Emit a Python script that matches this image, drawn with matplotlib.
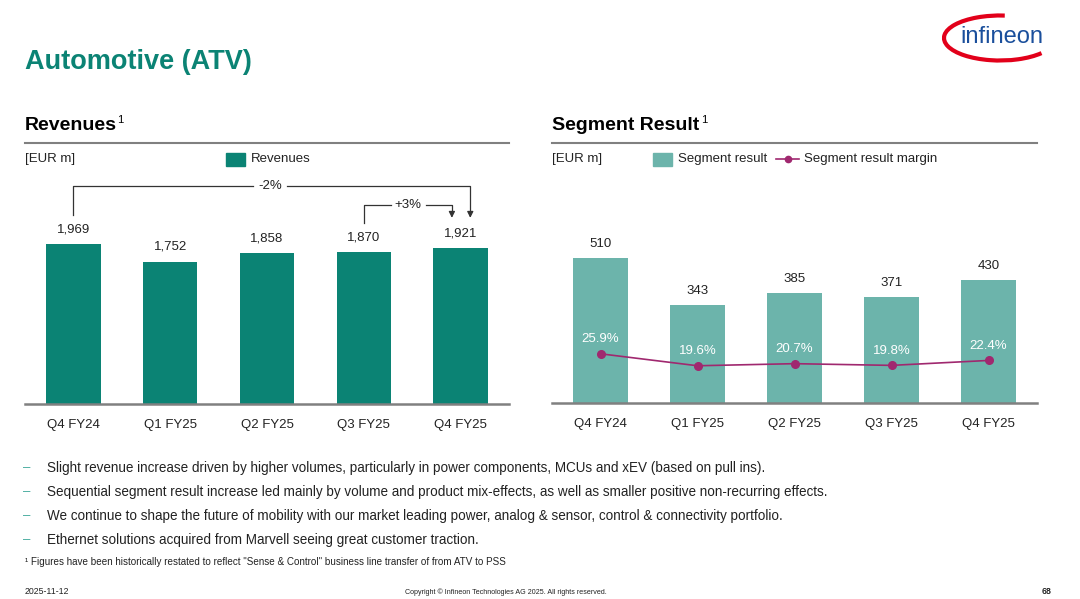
import matplotlib
matplotlib.use("Agg")
import matplotlib.pyplot as plt
from matplotlib.patches import Arc, Rectangle
from matplotlib.lines import Line2D
import numpy as np

plt.rcParams['font.family'] = ['Liberation Sans', 'DejaVu Sans']

quarters = ['Q4 FY24', 'Q1 FY25', 'Q2 FY25', 'Q3 FY25', 'Q4 FY25']
revenues = [1969, 1752, 1858, 1870, 1921]
seg_result = [510, 343, 385, 371, 430]
seg_margin = [25.9, 19.6, 20.7, 19.8, 22.4]

bullets = [
    'Slight revenue increase driven by higher volumes, particularly in power components, MCUs and xEV (based on pull ins).',
    'Sequential segment result increase led mainly by volume and product mix-effects, as well as smaller positive non-recurring effects.',
    'We continue to shape the future of mobility with our market leading power, analog & sensor, control & connectivity portfolio.',
    'Ethernet solutions acquired from Marvell seeing great customer traction.',
]

TEAL = '#0b8374'
LTEAL = '#6cb4ab'
BERRY = '#a0286f'
GRAY = '#808080'
TXT = '#222222'

W, H = 1080, 599
fig = plt.figure(figsize=(W / 100, H / 100), dpi=100)


def fx(x):
    return x / W


def fy(y):
    return 1 - y / H


def ftext(x, y, s, **kw):
    fig.text(fx(x), fy(y), s, **kw)


# header
ftext(25, 62, 'Automotive (ATV)', fontsize=19.5, fontweight='bold', color=TEAL, va='center')

# logo
lax = fig.add_axes([fx(930), fy(70), 140 / W, 70 / H])
lax.set_xlim(930, 1070)
lax.set_ylim(70, 0)
lax.axis('off')
lax.add_patch(Arc((1000, 38), 112, 45, theta1=20, theta2=282, color='#e2001a', lw=3))
lax.text(1002, 37, 'infineon', fontsize=17, color='#1a4f9c', ha='center', va='center')

# section titles and rules
ftext(25, 126, 'Revenues', fontsize=14, fontweight='bold', va='center')
ftext(117, 120, '1', fontsize=8, va='center')
ftext(552, 126, 'Segment Result', fontsize=14, fontweight='bold', va='center')
ftext(701, 120, '1', fontsize=8, va='center')
fig.add_artist(Line2D([fx(25), fx(509)], [fy(143), fy(143)], color=GRAY, lw=1.5))
fig.add_artist(Line2D([fx(552), fx(1037)], [fy(143), fy(143)], color=GRAY, lw=1.5))

ftext(25, 159, '[EUR m]', fontsize=9.5, color=TXT, va='center')
ftext(552, 159, '[EUR m]', fontsize=9.5, color=TXT, va='center')

# legends
fig.add_artist(Rectangle((fx(226), fy(166)), 19 / W, 13 / H, color=TEAL))
ftext(251, 159, 'Revenues', fontsize=9.5, color=TXT, va='center')
fig.add_artist(Rectangle((fx(653), fy(166)), 19 / W, 13 / H, color=LTEAL))
ftext(678, 159, 'Segment result', fontsize=9.5, color=TXT, va='center')
fig.add_artist(Line2D([fx(776), fx(799)], [fy(159), fy(159)], color=BERRY, lw=1.2))
fig.add_artist(Line2D([fx(787.5)], [fy(159)], color=BERRY, marker='o', markersize=4.5))
ftext(804, 159, 'Segment result margin', fontsize=9.5, color=TXT, va='center')

x = np.arange(len(quarters))


def style_axis(ax):
    for s in ['top', 'right', 'left']:
        ax.spines[s].set_visible(False)
    ax.spines['bottom'].set_color(GRAY)
    ax.spines['bottom'].set_linewidth(1.8)
    ax.set_yticks([])
    ax.set_xticks(x)
    ax.set_xticklabels(quarters, fontsize=9.5, color=TXT)
    ax.tick_params(axis='x', length=0, pad=11)
    ax.set_xlim(-0.5, 4.5)


# revenues chart
ax1 = fig.add_axes([fx(25), fy(404), 484 / W, (404 - 175) / H])
ax1.bar(x, revenues, width=0.56, color=TEAL)
ax1.set_ylim(0, 229 / 0.0811)
style_axis(ax1)
for i, v in enumerate(revenues):
    ax1.text(i, v + 110, f'{v:,}', ha='center', va='bottom', fontsize=9.5, color=TXT)

LC = '#333333'
# bracket -2%
top1 = max(revenues) + 720
ax1.plot([0, 0, 1.86], [revenues[0] + 360, top1, top1], color=LC, lw=0.9)
ax1.plot([2.21, 4.1, 4.1], [top1, top1, revenues[4] + 440], color=LC, lw=0.9)
ax1.annotate('', xy=(4.1, revenues[4] + 340), xytext=(4.1, revenues[4] + 450),
             arrowprops=dict(arrowstyle='-|>', color=LC, lw=0.9, mutation_scale=9))
ax1.text(2.035, top1, '-2%', ha='center', va='center', fontsize=9.5, color=TXT)
# bracket +3%
top2 = max(revenues) + 485
ax1.plot([3, 3, 3.28], [revenues[3] + 360, top2, top2], color=LC, lw=0.9)
ax1.plot([3.64, 3.91, 3.91], [top2, top2, revenues[4] + 440], color=LC, lw=0.9)
ax1.annotate('', xy=(3.91, revenues[4] + 340), xytext=(3.91, revenues[4] + 450),
             arrowprops=dict(arrowstyle='-|>', color=LC, lw=0.9, mutation_scale=9))
ax1.text(3.46, top2, '+3%', ha='center', va='center', fontsize=9.5, color=TXT)

# segment result chart
ax2 = fig.add_axes([fx(552), fy(403), 485 / W, (403 - 175) / H])
ax2.bar(x, seg_result, width=0.56, color=LTEAL)
ax2.set_ylim(0, 228 / 0.285)
style_axis(ax2)
for i, v in enumerate(seg_result):
    ax2.text(i, v + 28, f'{v}', ha='center', va='bottom', fontsize=9.5, color=TXT)

ax3 = ax2.twinx()
ax3.set_ylim(0, 228 / 1.9)
ax3.set_xlim(-0.5, 4.5)
ax3.axis('off')
ax3.plot(x, seg_margin, color=BERRY, lw=1.2, marker='o', markersize=5.5)
for i, v in enumerate(seg_margin):
    ax3.text(i, v + 4.5, f'{v}%', ha='center', va='bottom', fontsize=9.5, color='white')

# bullet text
for k, b in enumerate(bullets):
    yy = 468 + 24 * k
    ftext(23, yy, '\u2013', fontsize=9.5, color='#3aa597', va='center')
    ftext(47, yy, b, fontsize=9.72, color=TXT, va='center')

ftext(25, 562, '\u00b9 Figures have been historically restated to reflect "Sense & Control" business line transfer of from ATV to PSS',
      fontsize=7.1, color=TXT, va='center')

# footer
ftext(25, 592, '2025-11-12', fontsize=6.3, color=TXT, va='center')
ftext(506, 592, 'Copyright \u00a9 Infineon Technologies AG 2025. All rights reserved.', fontsize=5.1,
      color=TXT, va='center', ha='center')
ftext(1052, 592, '68', fontsize=6.3, color=TXT, va='center', ha='right', fontweight='bold')

fig.savefig('out.png', dpi=100)
